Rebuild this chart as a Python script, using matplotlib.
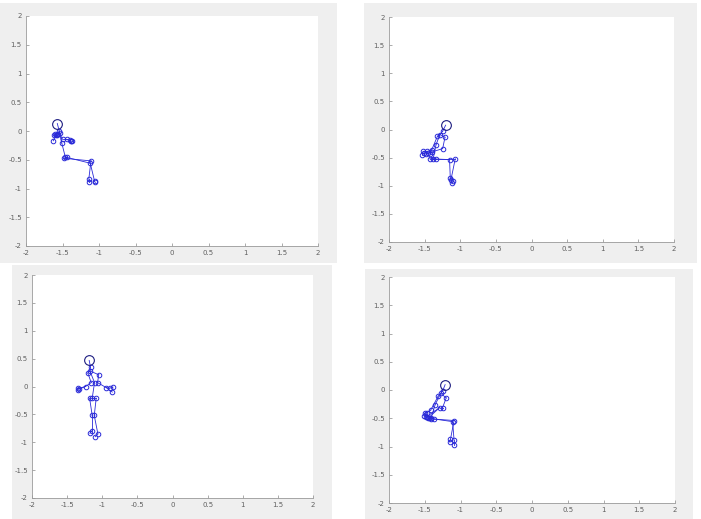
import matplotlib
matplotlib.use("Agg")
import matplotlib.pyplot as plt
from matplotlib.patches import Rectangle

# joint order (Kinect v2 style):
# 0 spine_base, 1 spine_mid, 2 neck, 3 head, 4 shoulder_L, 5 elbow_L, 6 wrist_L, 7 hand_L,
# 8 shoulder_R, 9 elbow_R, 10 wrist_R, 11 hand_R, 12 hip_L, 13 knee_L, 14 ankle_L, 15 foot_L,
# 16 hip_R, 17 knee_R, 18 ankle_R, 19 foot_R, 20 spine_shoulder, 21 tip_L, 22 thumb_L, 23 tip_R, 24 thumb_R
bones = [(0, 1), (1, 20), (20, 2), (2, 3),
         (20, 4), (4, 5), (5, 6), (6, 7), (7, 21), (6, 22),
         (20, 8), (8, 9), (9, 10), (10, 11), (11, 23), (10, 24),
         (0, 12), (12, 13), (13, 14), (14, 15),
         (0, 16), (16, 17), (17, 18), (18, 19)]

# frame 1 (top left)
x1 = [-1.46, -1.51, -1.545, -1.571, -1.56, -1.60, -1.585, -1.575,
      -1.50, -1.44, -1.40, -1.385, -1.475, -1.11, -1.14, -1.14,
      -1.44, -1.12, -1.06, -1.05, -1.54, -1.61, -1.626, -1.37, -1.39]
y1 = [-0.46, -0.21, 0.0, 0.13, -0.05, -0.06, -0.07, -0.065,
      -0.145, -0.145, -0.165, -0.175, -0.475, -0.52, -0.84, -0.88,
      -0.46, -0.56, -0.875, -0.895, -0.04, -0.065, -0.17, -0.18, -0.18]

# frame 2 (top right)
x2 = [-1.38, -1.34, -1.247, -1.205, -1.32, -1.40, -1.46, -1.52,
      -1.214, -1.247, -1.40, -1.45, -1.43, -1.15, -1.14, -1.12,
      -1.34, -1.07, -1.13, -1.10, -1.285, -1.53, -1.51, -1.48, -1.43]
y2 = [-0.52, -0.27, -0.03, 0.077, -0.12, -0.36, -0.39, -0.39,
      -0.137, -0.34, -0.40, -0.42, -0.52, -0.535, -0.86, -0.95,
      -0.52, -0.52, -0.89, -0.91, -0.09, -0.46, -0.42, -0.44, -0.44]

# frame 3 (bottom left)
x3 = [-1.143, -1.11, -1.167, -1.186, -1.205, -1.157, -1.238, -1.33,
      -1.05, -1.067, -0.943, -0.895, -1.18, -1.143, -1.143, -1.176,
      -1.086, -1.114, -1.062, -1.10, -1.176, -1.35, -1.34, -0.848, -0.857]
y3 = [-0.21, 0.07, 0.347, 0.467, 0.24, 0.07, 0.0, -0.045,
      0.21, 0.07, -0.02, -0.03, -0.21, -0.52, -0.79, -0.84,
      -0.21, -0.52, -0.85, -0.90, 0.28, -0.055, -0.035, -0.01, -0.10]

# frame 4 (bottom right)
x4 = [-1.41, -1.355, -1.248, -1.215, -1.313, -1.416, -1.47, -1.50,
      -1.20, -1.25, -1.29, -1.453, -1.374, -1.09, -1.14, -1.15,
      -1.44, -1.11, -1.09, -1.09, -1.276, -1.514, -1.486, -1.41, -1.47]
y4 = [-0.49, -0.26, -0.01, 0.095, -0.11, -0.355, -0.40, -0.41,
      -0.14, -0.31, -0.31, -0.50, -0.515, -0.54, -0.87, -0.92,
      -0.50, -0.56, -0.89, -0.965, -0.06, -0.455, -0.485, -0.51, -0.47]

ticks = [-2, -1.5, -1, -0.5, 0, 0.5, 1, 1.5, 2]
tick_labels = ['-2', '-1.5', '-1', '-0.5', '0', '0.5', '1', '1.5', '2']

W, H = 701, 519
fig = plt.figure(figsize=(W / 100, H / 100), dpi=100)
fig.patch.set_facecolor('white')

# gray panel backgrounds (pixels: x0, y0, x1, y1 from top-left)
panels = [(0, 3, 337, 263), (364, 3, 697, 263), (12, 265, 332, 519), (365, 269, 693, 519)]
axes_px = [(26, 16, 318, 246), (389, 17, 674, 242), (32, 275, 313, 498), (389, 277, 675, 503)]

for (a, b, c, d) in panels:
    fig.patches.append(Rectangle((a / W, 1 - d / H), (c - a) / W, (d - b) / H,
                                 transform=fig.transFigure, facecolor='#efefef',
                                 edgecolor='none', zorder=-5))

frames = [(x1, y1), (x2, y2), (x3, y3), (x4, y4)]
blue = '#2a2ad8'

for (xs, ys), (a, b, c, d) in zip(frames, axes_px):
    ax = fig.add_axes([a / W, 1 - d / H, (c - a) / W, (d - b) / H])
    ax.set_facecolor('white')
    for i, j in bones:
        ax.plot([xs[i], xs[j]], [ys[i], ys[j]], color=blue, lw=0.6)
    body = [k for k in range(len(xs)) if k != 3]
    ax.plot([xs[k] for k in body], [ys[k] for k in body], 'o', color=blue,
            mfc='none', ms=3.3, mew=0.7, ls='none')
    ax.plot(xs[3], ys[3], 'o', color='#1c1c80', mfc='none', ms=7, mew=0.8)
    ax.set_xlim(-2, 2)
    ax.set_ylim(-2, 2)
    ax.set_xticks(ticks)
    ax.set_yticks(ticks)
    ax.set_xticklabels(tick_labels)
    ax.set_yticklabels(tick_labels)
    ax.tick_params(direction='in', length=2, width=0.5, colors='#8a8a8a',
                   labelsize=5, labelcolor='#606060', pad=3)
    for s in ['top', 'right']:
        ax.spines[s].set_visible(False)
    for s in ['left', 'bottom']:
        ax.spines[s].set_color('#9a9a9a')
        ax.spines[s].set_linewidth(0.6)

fig.savefig('out.png', dpi=100)
